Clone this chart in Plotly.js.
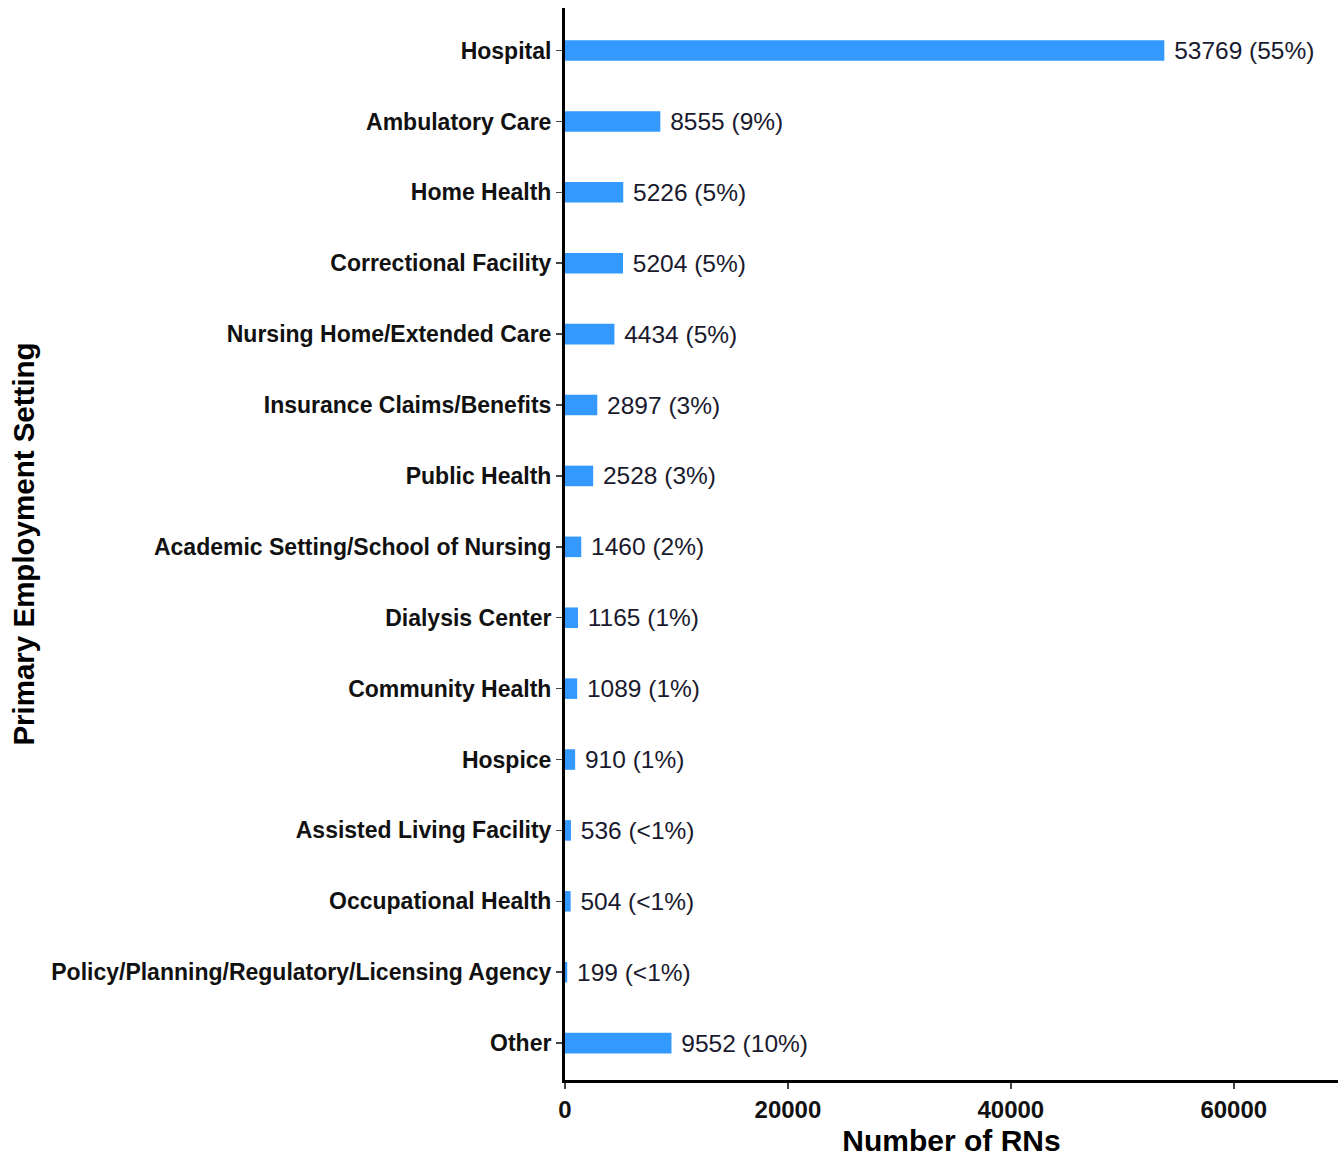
<!DOCTYPE html>
<html>
<head>
<meta charset="utf-8">
<script src="https://cdn.plot.ly/plotly-3.0.1.min.js"></script>
<style>html,body{margin:0;padding:0;background:#fff;}#chart{width:1341px;height:1158px;}</style>
</head>
<body>
<div id="chart"></div>
<script>
const categories = [
  "Hospital",
  "Ambulatory Care",
  "Home Health",
  "Correctional Facility",
  "Nursing Home/Extended Care",
  "Insurance Claims/Benefits",
  "Public Health",
  "Academic Setting/School of Nursing",
  "Dialysis Center",
  "Community Health",
  "Hospice",
  "Assisted Living Facility",
  "Occupational Health",
  "Policy/Planning/Regulatory/Licensing Agency",
  "Other"
];
const counts = [53769, 8555, 5226, 5204, 4434, 2897, 2528, 1460, 1165, 1089, 910, 536, 504, 199, 9552];
const percents = ["55%", "9%", "5%", "5%", "5%", "3%", "3%", "2%", "1%", "1%", "1%", "<1%", "<1%", "<1%", "10%"];
const xTicks = [0, 20000, 40000, 60000];

const labels = counts.map((c, i) => "\u00a0" + c + " (" + percents[i] + ")");

const trace = {
  type: "bar",
  orientation: "h",
  x: counts,
  y: categories,
  marker: {color: "#3399FF", line: {width: 0}},
  width: 0.29,
  text: labels,
  textposition: "outside",
  constraintext: "none",
  textfont: {family: "Liberation Sans, Arial, sans-serif", size: 24.5, color: "#1a1a2e"},
  cliponaxis: false,
  hoverinfo: "skip"
};

const layout = {
  width: 1341,
  height: 1158,
  margin: {l: 565, r: 3, t: 8, b: 78},
  paper_bgcolor: "#ffffff",
  plot_bgcolor: "#ffffff",
  showlegend: false,
  font: {family: "Liberation Sans, Arial, sans-serif", color: "#000000"},
  xaxis: {
    range: [0, 69350],
    tickvals: xTicks,
    ticktext: xTicks.map(String),
    ticks: "outside",
    ticklen: 6,
    tickwidth: 1.5,
    tickcolor: "#444444",
    showgrid: false,
    zeroline: false,
    showline: true,
    linecolor: "#000000",
    linewidth: 3,
    tickfont: {family: "Liberation Sans, Arial, sans-serif", size: 24, color: "#111111", weight: "bold"},
    title: {text: "<b>Number of RNs</b>", font: {size: 30, color: "#000000"}, standoff: 9}
  },
  yaxis: {
    type: "category",
    categoryorder: "array",
    categoryarray: categories,
    range: [14.52, -0.6],
    ticks: "outside",
    ticklen: 6,
    tickwidth: 1.5,
    tickcolor: "#444444",
    showgrid: false,
    zeroline: false,
    showline: true,
    linecolor: "#000000",
    linewidth: 3,
    tickfont: {family: "Liberation Sans, Arial, sans-serif", size: 23, color: "#111111", weight: "bold"},
    title: {text: "<b>Primary Employment Setting</b>", font: {size: 29.5, color: "#000000"}, standoff: 8}
  },
  bargap: 0.71
};

Plotly.newPlot("chart", [trace], layout, {displayModeBar: false, staticPlot: true});
</script>
</body>
</html>
